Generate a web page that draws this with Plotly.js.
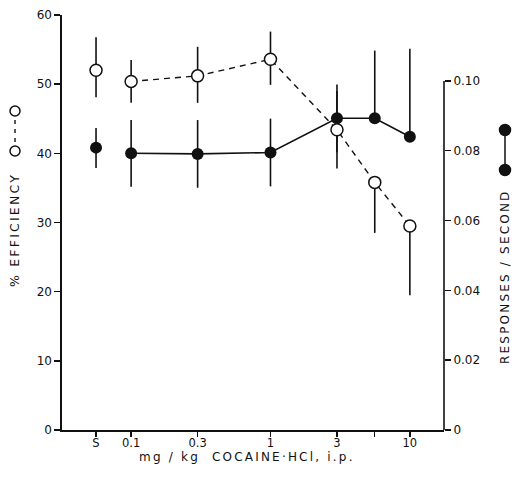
<!DOCTYPE html>
<html>
<head>
<meta charset="utf-8">
<script src="https://cdn.plot.ly/plotly-3.0.1.min.js"></script>
<style>
  html, body { margin: 0; padding: 0; background: #fff; }
  #chart { width: 512px; height: 483px; }
  .annotation-text { letter-spacing: 2.2px; }
</style>
</head>
<body>
<div id="chart"></div>
<script>
// ---- data ----
const doses = [0.1, 0.3, 1, 3, 5.6, 10];           // mg/kg cocaine HCl
const salineDose = 0.056;                           // placement of the saline ("S") point on the dose axis
const tickValues = [0.056, 0.1, 0.3, 1, 3, 5.6, 10];
const tickLabels = ['S', '0.1', '0.3', '1', '3', '', '10'];

// % efficiency (open circles, left axis)
const efficiency      = [50.4, 51.2, 53.6, 43.4, 35.8, 29.5];
const efficiencyPlus  = [3.1, 4.2, 4.0, 5.6, 0, 0];
const efficiencyMinus = [3.1, 3.9, 3.7, 5.6, 7.3, 10.0];
const salineEfficiency      = [52.0];
const salineEfficiencyPlus  = [4.8];
const salineEfficiencyMinus = [3.9];

// responses / second (filled circles, right axis)
const rate      = [0.0793, 0.0791, 0.0795, 0.0893, 0.0893, 0.0840];
const ratePlus  = [0.0095, 0.0097, 0.0097, 0.0097, 0.0194, 0.0252];
const rateMinus = [0.0096, 0.0097, 0.0097, 0.0097, 0, 0];
const salineRate      = [0.0809];
const salineRatePlus  = [0.0056];
const salineRateMinus = [0.0058];

const leftTicks  = [0, 10, 20, 30, 40, 50, 60];
const rightTicks = [0, 0.02, 0.04, 0.06, 0.08, 0.10];
const rightTickLabels = ['0', '0.02', '0.04', '0.06', '0.08', '0.10'];

// ---- styling ----
const FONT = 'DejaVu Sans, Liberation Sans, sans-serif';
const BLACK = '#111';
const errStyle = (plus, minus) => ({
  type: 'data', symmetric: false, array: plus, arrayminus: minus,
  thickness: 1.6, width: 0, color: BLACK
});

const traces = [
  // filled circles: responses/second (primary y axis, right side)
  {
    x: [salineDose], y: salineRate, yaxis: 'y', mode: 'markers',
    marker: { size: 12, color: BLACK, line: { width: 0 } },
    error_y: errStyle(salineRatePlus, salineRateMinus),
    hoverinfo: 'skip', showlegend: false
  },
  {
    x: doses, y: rate, yaxis: 'y', mode: 'lines+markers',
    line: { color: BLACK, width: 1.6 },
    marker: { size: 12, color: BLACK, line: { width: 0 } },
    error_y: errStyle(ratePlus, rateMinus),
    hoverinfo: 'skip', showlegend: false
  },
  // open circles: % efficiency (overlaid y2 axis, left side)
  {
    x: [salineDose], y: salineEfficiency, yaxis: 'y2', mode: 'markers',
    marker: { size: 12, color: '#fff', line: { width: 1.5, color: BLACK } },
    error_y: errStyle(salineEfficiencyPlus, salineEfficiencyMinus),
    hoverinfo: 'skip', showlegend: false
  },
  {
    x: doses, y: efficiency, yaxis: 'y2', mode: 'lines+markers',
    line: { color: BLACK, width: 1.4, dash: '6px,5px' },
    marker: { size: 12, color: '#fff', line: { width: 1.5, color: BLACK } },
    error_y: errStyle(efficiencyPlus, efficiencyMinus),
    hoverinfo: 'skip', showlegend: false
  }
];

// legend glyph positions (paper coordinates)
const LX = -0.123, LY1 = 0.7687, LY2 = 0.6723;
const RX = 1.1597, RY1 = 0.7229, RY2 = 0.6265;
const circ = (xa, ya, r, fill) => ({
  type: 'circle', xref: 'paper', yref: 'paper',
  xsizemode: 'pixel', ysizemode: 'pixel', xanchor: xa, yanchor: ya,
  x0: -r, x1: r, y0: -r, y1: r,
  fillcolor: fill, line: { color: BLACK, width: 1.5 }
});

const layout = {
  width: 512, height: 483,
  margin: { l: 62, r: 68, t: 15, b: 53, pad: 0 },
  paper_bgcolor: '#fff', plot_bgcolor: '#fff',
  showlegend: false,
  font: { family: FONT, size: 12, color: BLACK },
  xaxis: {
    type: 'log', range: [-1.496, 1.245],
    tickvals: tickValues, ticktext: tickLabels,
    ticks: 'outside', ticklen: 5, tickwidth: 1.4, tickcolor: BLACK,
    ticklabelstandoff: -3,
    showline: true, linewidth: 1.6, linecolor: BLACK,
    showgrid: false, zeroline: false,
    tickfont: { family: FONT, size: 11.5, color: BLACK }
  },
  yaxis: {
    side: 'right', range: [0, 0.1189],
    tickvals: rightTicks, ticktext: rightTickLabels,
    ticks: 'outside', ticklen: 6, tickwidth: 1.4, tickcolor: BLACK,
    showline: false, showgrid: false, zeroline: false,
    tickfont: { family: FONT, size: 12, color: BLACK }
  },
  yaxis2: {
    overlaying: 'y', side: 'left', range: [0, 60],
    tickvals: leftTicks,
    ticks: 'outside', ticklen: 6, tickwidth: 1.4, tickcolor: BLACK,
    showline: true, linewidth: 1.6, linecolor: BLACK,
    showgrid: false, zeroline: false,
    tickfont: { family: FONT, size: 12, color: BLACK }
  },
  shapes: [
    // right axis line only spans 0 .. 0.10
    { type: 'line', xref: 'paper', yref: 'y', x0: 1, x1: 1, y0: 0, y1: 0.10,
      line: { color: BLACK, width: 1.6 } },
    // legend glyph: open circles with dashed line
    { type: 'line', xref: 'paper', yref: 'paper', x0: LX, x1: LX, y0: LY1, y1: LY2,
      line: { color: BLACK, width: 1.4, dash: '4px,5px' } },
    circ(LX, LY1, 5, '#fff'),
    circ(LX, LY2, 5, '#fff'),
    // legend glyph: filled circles with solid line
    { type: 'line', xref: 'paper', yref: 'paper', x0: RX, x1: RX, y0: RY1, y1: RY2,
      line: { color: BLACK, width: 1.5 } },
    circ(RX, RY1, 5.5, BLACK),
    circ(RX, RY2, 5.5, BLACK)
  ],
  annotations: [
    { text: '% EFFICIENCY', xref: 'paper', yref: 'paper', x: LX, y: 0.482,
      textangle: -90, showarrow: false, xanchor: 'center', yanchor: 'middle',
      font: { family: FONT, size: 12.5, color: BLACK } },
    { text: 'RESPONSES / SECOND', xref: 'paper', yref: 'paper', x: RX, y: 0.3687,
      textangle: -90, showarrow: false, xanchor: 'center', yanchor: 'middle',
      font: { family: FONT, size: 12, color: BLACK } },
    { text: 'mg / kg  COCAINE·HCl, i.p.', xref: 'paper', yref: 'paper', x: 0.483, y: -0.065,
      showarrow: false, xanchor: 'center', yanchor: 'middle',
      font: { family: FONT, size: 12, color: BLACK } }
  ]
};

Plotly.newPlot('chart', traces, layout, { staticPlot: true, displayModeBar: false });
</script>
</body>
</html>
